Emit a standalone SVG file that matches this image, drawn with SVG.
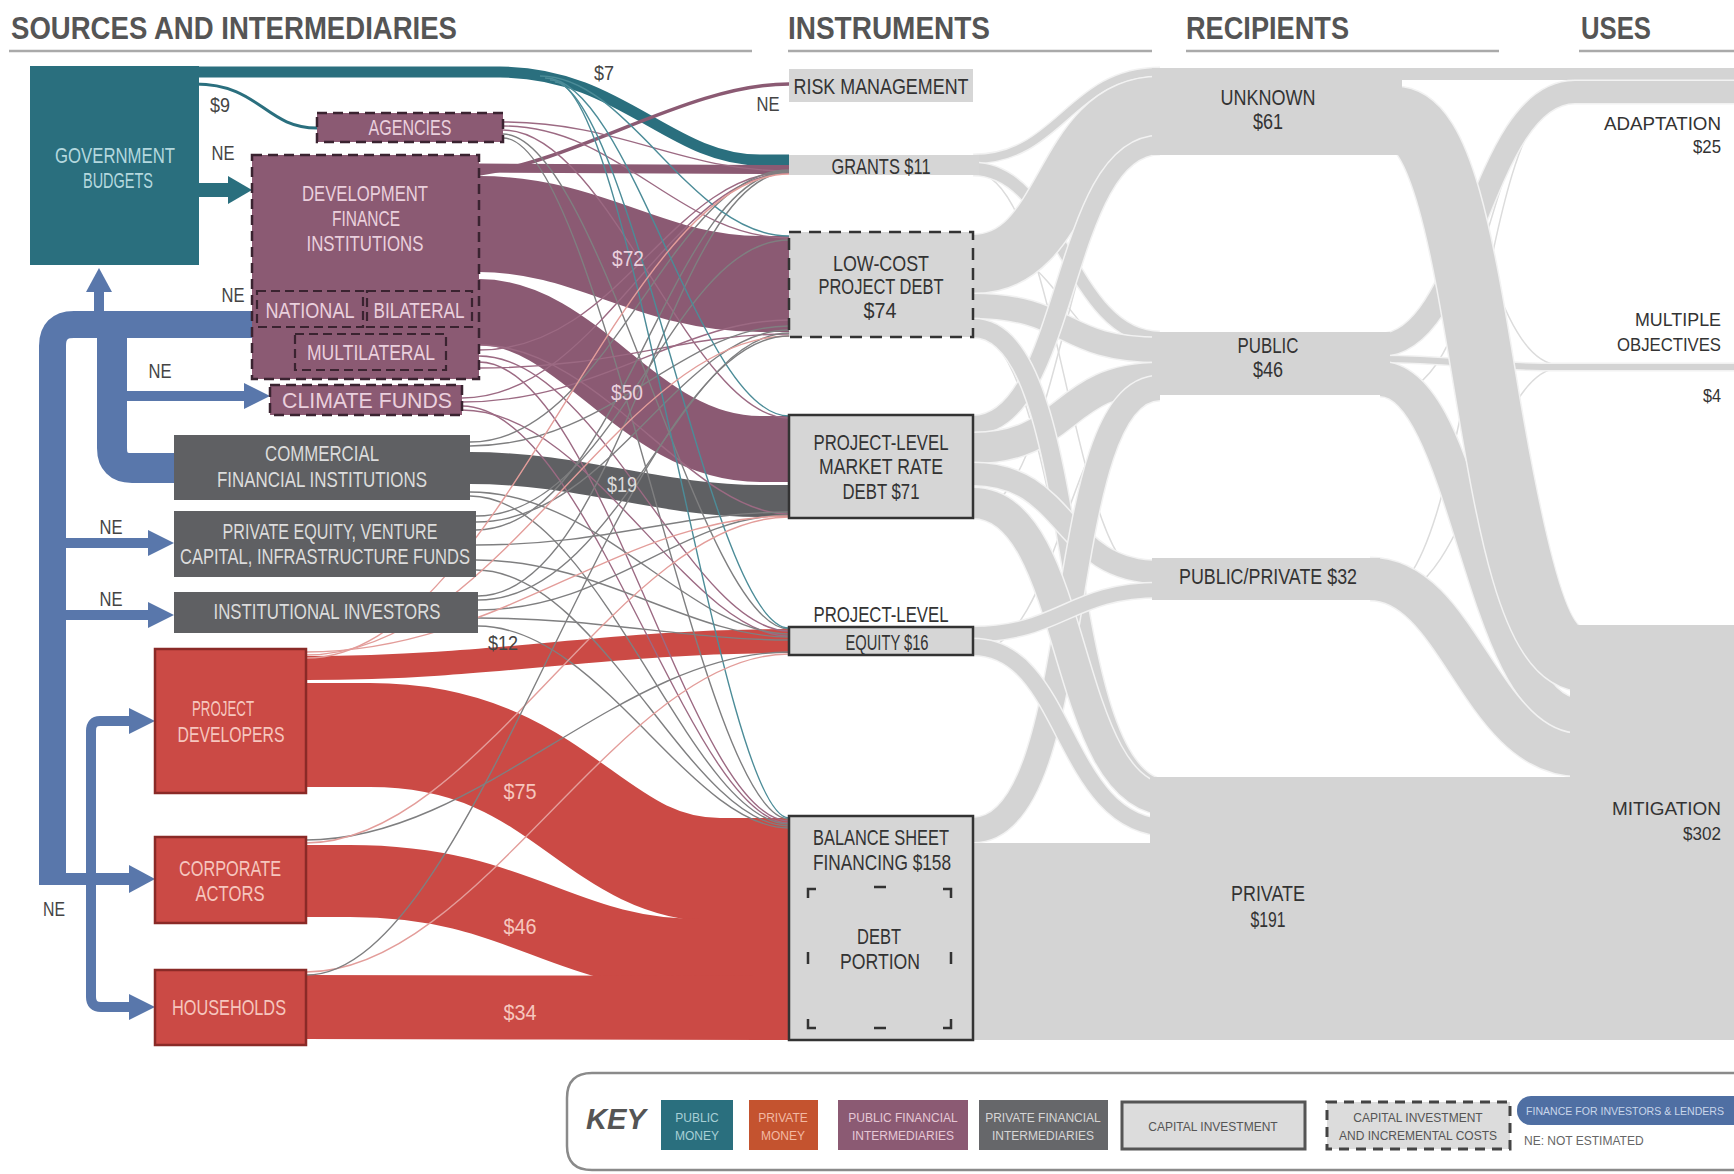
<svg xmlns="http://www.w3.org/2000/svg" width="1734" height="1174" viewBox="0 0 1734 1174">
<style>
.hd{font-family:"Liberation Sans",Arial,sans-serif;font-weight:bold;font-size:31px;fill:#555}
.t{font-family:"Liberation Sans Narrow","Liberation Sans",Arial,sans-serif;font-size:22px;text-anchor:middle}
.u{font-size:19px;text-anchor:end}
.dk{fill:#333}
.lt{fill:#b4d8de}
.lm{fill:#ead0dd}
.lg{fill:#dcdcdc}
.lr{fill:#f6c6be}
.ne{fill:#444;font-size:20px}
.f{fill:none;stroke:#d4d4d4}
.h{fill:none;stroke:#f2f2f2}
.hair{fill:none;stroke-width:1.4}
.hm{stroke:#9c6a83}
.hg{stroke:#7f7f80}
.ht{stroke:#4c8c98}
.hp{stroke:#e39d9a}
.hr{fill:none;stroke:#dcdcdc;stroke-width:1.5}
.node{fill:#d4d4d4}
.mv{fill:#8b5a73;stroke:#3a2330;stroke-width:2.5;stroke-dasharray:10 6}
.sub{fill:#8b5a73;stroke:#3a2330;stroke-width:2.2;stroke-dasharray:9 5}
.gr{fill:#5f6063}
.rd{fill:#cb4a45;stroke:#8a2a27;stroke-width:2.5}
.ins{fill:#d6d6d6;stroke:#333;stroke-width:2.5}
.blue{fill:none;stroke:#5977ab}
.bh{fill:#5977ab}
.k{font-family:"Liberation Sans Narrow","Liberation Sans",Arial,sans-serif;font-size:12px;text-anchor:middle}
</style>

<!-- headers -->
<g id="headers">
<text class="hd" x="11" y="39" textLength="446" lengthAdjust="spacingAndGlyphs">SOURCES AND INTERMEDIARIES</text>
<text class="hd" x="788" y="39" textLength="202" lengthAdjust="spacingAndGlyphs">INSTRUMENTS</text>
<text class="hd" x="1186" y="39" textLength="163" lengthAdjust="spacingAndGlyphs">RECIPIENTS</text>
<text class="hd" x="1581" y="39" textLength="70" lengthAdjust="spacingAndGlyphs">USES</text>
<path d="M9,51H752 M788,51H1152 M1186,51H1499 M1579,51H1734" stroke="#aaa" stroke-width="2.5" fill="none"/>
</g>

<!-- right-side connectors -->
<g id="connectors-right">
<path class="hr" d="M973,172 C1060,172 1070,580 1150,580"/>
<path class="hr" d="M973,332 C1060,332 1070,810 1150,810"/>
<path class="hr" d="M973,652 C1060,652 1070,392 1150,392"/>
<path class="hr" d="M973,242 C1060,242 1070,362 1150,362"/>
<path class="hr" d="M973,512 C1060,512 1070,150 1150,150"/>
<path class="hr" d="M1405,150 C1480,150 1490,365 1560,365"/>
<path class="hr" d="M1395,392 C1480,392 1490,100 1560,100"/>
<path class="hr" d="M1385,598 C1470,598 1490,368 1560,368"/>
<path class="hr" d="M1380,596 C1470,596 1480,102 1560,102"/>
<path class="hr" d="M1405,96 C1480,96 1480,600 1560,600"/>

<path class="h" stroke-width="11" d="M973,159 C1060,159 1070,72 1160,72"/>
<path class="f" stroke-width="8" d="M973,159 C1060,159 1070,72 1160,72"/>
<path class="h" stroke-width="15" d="M973,169 C1060,169 1070,338 1160,338"/>
<path class="f" stroke-width="12" d="M973,169 C1060,169 1070,338 1160,338"/>
<path class="h" stroke-width="61" d="M973,264 C1070,264 1060,106 1160,106"/>
<path class="f" stroke-width="58" d="M973,264 C1070,264 1060,106 1160,106"/>
<path class="h" stroke-width="27" d="M973,306 C1070,306 1060,350 1160,350"/>
<path class="f" stroke-width="24" d="M973,306 C1070,306 1060,350 1160,350"/>
<path class="h" stroke-width="21" d="M973,425 C1070,425 1060,145 1160,145"/>
<path class="f" stroke-width="18" d="M973,425 C1070,425 1060,145 1160,145"/>
<path class="h" stroke-width="33" d="M973,448 C1070,448 1060,378 1160,378"/>
<path class="f" stroke-width="30" d="M973,448 C1070,448 1060,378 1160,378"/>
<path class="h" stroke-width="21" d="M973,328 C1090,328 1050,790 1170,790"/>
<path class="f" stroke-width="18" d="M973,328 C1090,328 1050,790 1170,790"/>
<path class="h" stroke-width="25" d="M973,474 C1070,474 1060,572 1160,572"/>
<path class="f" stroke-width="22" d="M973,474 C1070,474 1060,572 1160,572"/>
<path class="h" stroke-width="27" d="M973,830 C1090,830 1050,388 1160,388"/>
<path class="f" stroke-width="24" d="M973,830 C1090,830 1050,388 1160,388"/>
<path class="h" stroke-width="33" d="M973,503 C1080,503 1060,800 1170,800"/>
<path class="f" stroke-width="30" d="M973,503 C1080,503 1060,800 1170,800"/>
<path class="h" stroke-width="17" d="M973,634 C1060,634 1070,590 1160,590"/>
<path class="f" stroke-width="14" d="M973,634 C1060,634 1070,590 1160,590"/>
<path class="h" stroke-width="19" d="M973,647 C1070,647 1060,828 1170,828"/>
<path class="f" stroke-width="16" d="M973,647 C1070,647 1060,828 1170,828"/>
<rect class="node" x="973" y="843" width="200" height="197"/>

<path class="f" stroke-width="12" d="M1390,74 L1734,74"/>
<path class="h" stroke-width="25" d="M1380,345 C1470,345 1480,92 1575,92 L1734,92"/>
<path class="f" stroke-width="22" d="M1380,345 C1470,345 1480,92 1575,92 L1734,92"/>
<path class="h" stroke-width="9" d="M1380,359 C1460,359 1470,367 1560,367 L1734,367"/>
<path class="f" stroke-width="6" d="M1380,359 C1460,359 1470,367 1560,367 L1734,367"/>
<path class="h" stroke-width="37" d="M1380,379 C1470,379 1480,716 1580,716"/>
<path class="f" stroke-width="34" d="M1380,379 C1470,379 1480,716 1580,716"/>
<path class="h" stroke-width="65" d="M1395,118 C1490,118 1480,660 1585,660"/>
<path class="f" stroke-width="62" d="M1395,118 C1490,118 1480,660 1585,660"/>
<path class="h" stroke-width="45" d="M1370,579 C1460,579 1480,755 1580,755"/>
<path class="f" stroke-width="42" d="M1370,579 C1460,579 1480,755 1580,755"/>
</g>

<!-- recipients and uses -->
<g id="node-unknown"><rect class="node" x="1152" y="68" width="250" height="87"/>
<text class="t dk" x="1268" y="105" textLength="95" lengthAdjust="spacingAndGlyphs">UNKNOWN</text>
<text class="t dk" x="1268" y="129" textLength="30" lengthAdjust="spacingAndGlyphs">$61</text></g>
<g id="node-public"><rect class="node" x="1152" y="332" width="238" height="63"/>
<text class="t dk" x="1268" y="353" textLength="61" lengthAdjust="spacingAndGlyphs">PUBLIC</text>
<text class="t dk" x="1268" y="377" textLength="30" lengthAdjust="spacingAndGlyphs">$46</text></g>
<g id="node-pubpriv"><rect class="node" x="1152" y="558" width="228" height="42"/>
<text class="t dk" x="1268" y="584" textLength="178" lengthAdjust="spacingAndGlyphs">PUBLIC/PRIVATE $32</text></g>
<g id="node-private"><rect class="node" x="1150" y="777" width="584" height="263"/>
<text class="t dk" x="1268" y="901" textLength="74" lengthAdjust="spacingAndGlyphs">PRIVATE</text>
<text class="t dk" x="1268" y="927" textLength="35" lengthAdjust="spacingAndGlyphs">$191</text></g>
<g id="node-mitigation"><rect class="node" x="1570" y="625" width="164" height="415"/>
<text class="t u dk" x="1721" y="815" textLength="109" lengthAdjust="spacingAndGlyphs">MITIGATION</text>
<text class="t u dk" x="1721" y="840" textLength="38" lengthAdjust="spacingAndGlyphs">$302</text></g>
<g id="node-adaptation">
<text class="t u dk" x="1721" y="130" textLength="117" lengthAdjust="spacingAndGlyphs">ADAPTATION</text>
<text class="t u dk" x="1721" y="153" textLength="28" lengthAdjust="spacingAndGlyphs">$25</text></g>
<g id="node-multiple">
<text class="t u dk" x="1721" y="326" textLength="86" lengthAdjust="spacingAndGlyphs">MULTIPLE</text>
<text class="t u dk" x="1721" y="351" textLength="104" lengthAdjust="spacingAndGlyphs">OBJECTIVES</text>
<text class="t u dk" x="1721" y="402" textLength="18" lengthAdjust="spacingAndGlyphs">$4</text></g>

<!-- left-side connectors -->
<g id="connectors-left">
<path fill="none" stroke="#2a6f7e" stroke-width="11" d="M195,72 L500,72 C620,72 670,160 760,160 L789,160"/>
<path fill="none" stroke="#2a6f7e" stroke-width="3" d="M195,84 C260,84 265,128 317,128"/>
<path fill="none" stroke="#8b5a73" stroke-width="9" d="M479,168 C600,168 680,169.5 789,169.5"/>
<path fill="none" stroke="#8b5a73" stroke-width="3.5" d="M479,174 C580,160 690,84 789,84"/>
<path fill="none" stroke="#8b5a73" stroke-width="96" d="M479,224 C590,224 650,284 760,284 L789,284"/>
<path fill="none" stroke="#8b5a73" stroke-width="66" d="M479,312 C580,312 640,449 760,449 L789,449"/>
<path fill="none" stroke="#5f6063" stroke-width="32" d="M470,468 C580,468 660,501 760,501 L789,501"/>
<path fill="none" stroke="#cb4a45" stroke-width="24" d="M306,668 C500,668 600,641 789,641"/>
<path fill="none" stroke="#cb4a45" stroke-width="104" d="M306,735 L370,735 C560,735 590,870 720,870 L789,870"/>
<path fill="none" stroke="#cb4a45" stroke-width="72" d="M306,881 L350,881 C520,881 560,955 700,955 L789,955"/>
<path fill="none" stroke="#cb4a45" stroke-width="64" d="M306,1007 C500,1007 600,1008 789,1008"/>

<path class="hair hm" d="M503,122 C620,122 680,171 789,171"/>
<path class="hair hm" d="M503,126 C620,126 680,238 789,238"/>
<path class="hair hm" d="M503,130 C610,130 690,418 789,418"/>
<path class="hair hg" d="M503,134 C600,134 700,629 789,629"/>
<path class="hair hg" d="M503,138 C600,138 700,819 789,819"/>
<path class="hair hm" d="M479,350 C620,350 670,172 789,172"/>
<path class="hair hm" d="M479,356 C600,356 690,631 789,631"/>
<path class="hair hm" d="M479,362 C600,362 690,821 789,821"/>
<path class="hair hm" d="M479,368 C620,368 680,334 789,334"/>
<path class="hair hm" d="M479,345 C600,345 690,514 789,514"/>
<path class="hair hm" d="M462,398 C600,398 670,173 789,173"/>
<path class="hair hm" d="M462,402 C600,402 680,320 789,320"/>
<path class="hair hm" d="M462,406 C590,406 690,823 789,823"/>
<path class="hair hm" d="M462,410 C590,410 690,636 789,636"/>
<path class="hair hg" d="M470,442 C610,442 670,170 789,170"/>
<path class="hair hg" d="M470,446 C610,446 680,326 789,326"/>
<path class="hair hg" d="M470,492 C600,492 690,634 789,634"/>
<path class="hair hg" d="M470,496 C600,496 690,824 789,824"/>
<path class="hair hg" d="M476,516 C620,516 670,240 789,240"/>
<path class="hair hg" d="M476,522 C610,522 680,330 789,330"/>
<path class="hair hg" d="M476,530 C620,530 670,171 789,171"/>
<path class="hair hg" d="M476,545 C610,545 680,512 789,512"/>
<path class="hair hg" d="M476,560 C600,560 690,637 789,637"/>
<path class="hair hg" d="M476,570 C600,570 690,826 789,826"/>
<path class="hair hg" d="M478,596 C620,596 670,172 789,172"/>
<path class="hair hg" d="M478,600 C620,600 680,333 789,333"/>
<path class="hair hg" d="M478,610 C610,610 680,515 789,515"/>
<path class="hair hg" d="M478,618 C600,618 690,640 789,640"/>
<path class="hair hg" d="M478,626 C600,626 690,828 789,828"/>
<path class="hair ht" d="M540,76 C630,76 690,236 789,236"/>
<path class="hair ht" d="M545,78 C630,78 700,416 789,416"/>
<path class="hair ht" d="M550,80 C630,80 710,628 789,628"/>
<path class="hair ht" d="M555,82 C630,82 720,818 789,818"/>
<path class="hair hp" d="M306,652 C500,652 620,516 789,516"/>
<path class="hair hp" d="M306,655 C500,655 620,336 789,336"/>
<path class="hair hp" d="M306,658 C500,658 620,174 789,174"/>
<path class="hair hg" d="M306,840 C480,840 620,652 789,652"/>
<path class="hair hp" d="M306,843 C480,843 620,517 789,517"/>
<path class="hair hp" d="M306,972 C480,972 620,654 789,654"/>
<path class="hair hg" d="M306,975 C480,975 620,336 789,336"/>
</g>

<!-- blue arrows -->
<g id="connectors-blue">
<path class="blue" stroke-width="27" d="M252,324.5 L74,324.5 Q52.5,324.5 52.5,346 L52.5,885"/>
<rect class="bh" x="94" y="288" width="10" height="26"/>
<polygon class="bh" points="99,268 86,292 112,292"/>
<path class="blue" stroke-width="30" d="M174,468 L132,468 Q112,468 112,448 L112,336"/>
<path class="blue" stroke-width="10" d="M126,396 L246,396"/>
<polygon class="bh" points="270,396 244,383 244,409"/>
<path class="blue" stroke-width="10" d="M60,543 L150,543"/>
<polygon class="bh" points="174,543 148,530 148,556"/>
<path class="blue" stroke-width="10" d="M60,615 L150,615"/>
<polygon class="bh" points="174,615 148,602 148,628"/>
<path class="blue" stroke-width="12" d="M52,879 L132,879"/>
<polygon class="bh" points="155,879 129,865 129,893"/>
<path class="blue" stroke-width="10" d="M132,721 L100,721 Q91,721 91,731 L91,997 Q91,1007 101,1007 L132,1007"/>
<polygon class="bh" points="155,721 129,708 129,734"/>
<polygon class="bh" points="155,1007 129,994 129,1020"/>
<path fill="none" stroke="#2a6f7e" stroke-width="14" d="M199,190 L232,190"/>
<polygon fill="#2a6f7e" points="252,190 228,176 228,204"/>
</g>

<!-- source nodes -->
<g id="node-gov"><rect x="30" y="66" width="169" height="199" fill="#2a6f7e"/>
<text class="t lt" x="115" y="163" textLength="120" lengthAdjust="spacingAndGlyphs">GOVERNMENT</text>
<text class="t lt" x="118" y="188" textLength="70" lengthAdjust="spacingAndGlyphs">BUDGETS</text></g>
<g id="node-agencies"><rect class="mv" x="317" y="113" width="186" height="29"/>
<text class="t lm" x="410" y="135" textLength="83" lengthAdjust="spacingAndGlyphs">AGENCIES</text></g>
<g id="node-dfi"><rect class="mv" x="252" y="155" width="227" height="224"/>
<text class="t lm" x="365" y="201" textLength="126" lengthAdjust="spacingAndGlyphs">DEVELOPMENT</text>
<text class="t lm" x="366" y="226" textLength="68" lengthAdjust="spacingAndGlyphs">FINANCE</text>
<text class="t lm" x="365" y="251" textLength="117" lengthAdjust="spacingAndGlyphs">INSTITUTIONS</text></g>
<g id="node-national"><rect class="sub" x="257" y="291" width="106" height="36"/>
<text class="t lm" x="310" y="318" textLength="89" lengthAdjust="spacingAndGlyphs">NATIONAL</text></g>
<g id="node-bilateral"><rect class="sub" x="367" y="291" width="105" height="36"/>
<text class="t lm" x="419" y="318" textLength="91" lengthAdjust="spacingAndGlyphs">BILATERAL</text></g>
<g id="node-multilateral"><rect class="sub" x="295" y="334" width="151" height="36"/>
<text class="t lm" x="371" y="360" textLength="128" lengthAdjust="spacingAndGlyphs">MULTILATERAL</text></g>
<g id="node-climate"><rect class="mv" x="270" y="385" width="192" height="30"/>
<text class="t lm" x="367" y="408" textLength="170" lengthAdjust="spacingAndGlyphs">CLIMATE FUNDS</text></g>
<g id="node-commercial"><rect class="gr" x="174" y="435" width="296" height="65"/>
<text class="t lg" x="322" y="461" textLength="114" lengthAdjust="spacingAndGlyphs">COMMERCIAL</text>
<text class="t lg" x="322" y="487" textLength="210" lengthAdjust="spacingAndGlyphs">FINANCIAL INSTITUTIONS</text></g>
<g id="node-pe"><rect class="gr" x="174" y="511" width="302" height="66"/>
<text class="t lg" x="330" y="539" textLength="215" lengthAdjust="spacingAndGlyphs">PRIVATE EQUITY, VENTURE</text>
<text class="t lg" x="325" y="564" textLength="290" lengthAdjust="spacingAndGlyphs">CAPITAL, INFRASTRUCTURE FUNDS</text></g>
<g id="node-institutional"><rect class="gr" x="174" y="592" width="304" height="41"/>
<text class="t lg" x="327" y="619" textLength="227" lengthAdjust="spacingAndGlyphs">INSTITUTIONAL INVESTORS</text></g>
<g id="node-developers"><rect class="rd" x="155" y="649" width="151" height="144"/>
<text class="t lr" x="223" y="716" textLength="62" lengthAdjust="spacingAndGlyphs">PROJECT</text>
<text class="t lr" x="231" y="742" textLength="107" lengthAdjust="spacingAndGlyphs">DEVELOPERS</text></g>
<g id="node-corporate"><rect class="rd" x="155" y="837" width="151" height="86"/>
<text class="t lr" x="230" y="876" textLength="102" lengthAdjust="spacingAndGlyphs">CORPORATE</text>
<text class="t lr" x="230" y="901" textLength="69" lengthAdjust="spacingAndGlyphs">ACTORS</text></g>
<g id="node-households"><rect class="rd" x="155" y="970" width="151" height="75"/>
<text class="t lr" x="229" y="1015" textLength="114" lengthAdjust="spacingAndGlyphs">HOUSEHOLDS</text></g>

<!-- instrument nodes -->
<g id="node-risk"><rect x="789" y="69" width="184" height="33" fill="#d6d6d6"/>
<text class="t dk" x="881" y="94" textLength="175" lengthAdjust="spacingAndGlyphs">RISK MANAGEMENT</text></g>
<g id="node-grants"><rect x="789" y="155" width="190" height="20" fill="#d6d6d6"/>
<text class="t dk" x="881" y="174" textLength="99" lengthAdjust="spacingAndGlyphs">GRANTS $11</text></g>
<g id="node-lowcost"><rect class="ins" x="789" y="232" width="184" height="105" stroke-dasharray="12 8"/>
<text class="t dk" x="881" y="271" textLength="96" lengthAdjust="spacingAndGlyphs">LOW-COST</text>
<text class="t dk" x="881" y="294" textLength="125" lengthAdjust="spacingAndGlyphs">PROJECT DEBT</text>
<text class="t dk" x="880" y="318" textLength="33" lengthAdjust="spacingAndGlyphs">$74</text></g>
<g id="node-market"><rect class="ins" x="789" y="415" width="184" height="103"/>
<text class="t dk" x="881" y="450" textLength="135" lengthAdjust="spacingAndGlyphs">PROJECT-LEVEL</text>
<text class="t dk" x="881" y="474" textLength="124" lengthAdjust="spacingAndGlyphs">MARKET RATE</text>
<text class="t dk" x="881" y="499" textLength="77" lengthAdjust="spacingAndGlyphs">DEBT $71</text></g>
<g id="node-equity"><rect class="ins" x="789" y="627" width="184" height="28"/>
<text class="t dk" x="881" y="622" textLength="135" lengthAdjust="spacingAndGlyphs">PROJECT-LEVEL</text>
<text class="t dk" x="887" y="650" textLength="83" lengthAdjust="spacingAndGlyphs">EQUITY $16</text></g>
<g id="node-balance"><rect class="ins" x="789" y="816" width="184" height="224"/>
<text class="t dk" x="881" y="845" textLength="136" lengthAdjust="spacingAndGlyphs">BALANCE SHEET</text>
<text class="t dk" x="882" y="870" textLength="138" lengthAdjust="spacingAndGlyphs">FINANCING $158</text>
<path fill="none" stroke="#333" stroke-width="2.5" d="M808,898 L808,889 L816,889 M943,889 L951,889 L951,898 M808,1019 L808,1028 L816,1028 M943,1028 L951,1028 L951,1019 M874,887 L886,887 M874,1028 L886,1028 M808,952 L808,964 M951,952 L951,964"/>
<text class="t dk" x="879" y="944" textLength="44" lengthAdjust="spacingAndGlyphs">DEBT</text>
<text class="t dk" x="880" y="969" textLength="80" lengthAdjust="spacingAndGlyphs">PORTION</text></g>

<!-- flow labels -->
<g id="labels">
<text class="t lm" x="628" y="266" textLength="32" lengthAdjust="spacingAndGlyphs">$72</text>
<text class="t lm" x="627" y="400" textLength="32" lengthAdjust="spacingAndGlyphs">$50</text>
<text class="t lg" x="622" y="492" textLength="30" lengthAdjust="spacingAndGlyphs">$19</text>
<text class="t ne" x="503" y="650" textLength="30" lengthAdjust="spacingAndGlyphs">$12</text>
<text class="t lr" x="520" y="799" textLength="33" lengthAdjust="spacingAndGlyphs">$75</text>
<text class="t lr" x="520" y="934" textLength="33" lengthAdjust="spacingAndGlyphs">$46</text>
<text class="t lr" x="520" y="1020" textLength="33" lengthAdjust="spacingAndGlyphs">$34</text>
<text class="t ne" x="604" y="80" textLength="20" lengthAdjust="spacingAndGlyphs">$7</text>
<text class="t ne" x="220" y="112" textLength="20" lengthAdjust="spacingAndGlyphs">$9</text>
<text class="t ne" x="223" y="160" textLength="23" lengthAdjust="spacingAndGlyphs">NE</text>
<text class="t ne" x="233" y="302" textLength="23" lengthAdjust="spacingAndGlyphs">NE</text>
<text class="t ne" x="160" y="378" textLength="23" lengthAdjust="spacingAndGlyphs">NE</text>
<text class="t ne" x="111" y="534" textLength="23" lengthAdjust="spacingAndGlyphs">NE</text>
<text class="t ne" x="111" y="606" textLength="23" lengthAdjust="spacingAndGlyphs">NE</text>
<text class="t ne" x="54" y="916" textLength="22" lengthAdjust="spacingAndGlyphs">NE</text>
<text class="t ne" x="768" y="111" textLength="23" lengthAdjust="spacingAndGlyphs">NE</text>
</g>

<!-- key -->
<g id="key">
<path fill="none" stroke="#8a8a8a" stroke-width="2.5" d="M1740,1073 L592,1073 Q567,1073 567,1098 L567,1146 Q567,1170 592,1170 L1740,1170"/>
<text x="586" y="1129" font-family="'Liberation Sans',Arial,sans-serif" font-size="29" font-weight="bold" font-style="italic" fill="#555" textLength="60" lengthAdjust="spacingAndGlyphs">KEY</text>
<rect x="661" y="1100" width="72" height="50" fill="#2a6f7e"/>
<text class="k" x="697" y="1122" fill="#a8d0d6">PUBLIC</text><text class="k" x="697" y="1140" fill="#a8d0d6">MONEY</text>
<rect x="749" y="1100" width="69" height="50" fill="#c4532f"/>
<text class="k" x="783" y="1122" fill="#f2b9a3">PRIVATE</text><text class="k" x="783" y="1140" fill="#f2b9a3">MONEY</text>
<rect x="838" y="1100" width="130" height="50" fill="#8b5a73"/>
<text class="k" x="903" y="1122" fill="#e6c8d6">PUBLIC FINANCIAL</text><text class="k" x="903" y="1140" fill="#e6c8d6">INTERMEDIARIES</text>
<rect x="979" y="1100" width="129" height="50" fill="#66676a"/>
<text class="k" x="1043" y="1122" fill="#d6d6d6">PRIVATE FINANCIAL</text><text class="k" x="1043" y="1140" fill="#d6d6d6">INTERMEDIARIES</text>
<rect x="1122" y="1102" width="183" height="47" fill="#dcdcdc" stroke="#555" stroke-width="3"/>
<text class="k" x="1213" y="1131" fill="#555">CAPITAL INVESTMENT</text>
<rect x="1327" y="1102" width="183" height="47" fill="#dcdcdc" stroke="#444" stroke-width="3" stroke-dasharray="10 7"/>
<text class="k" x="1418" y="1122" fill="#555">CAPITAL INVESTMENT</text><text class="k" x="1418" y="1140" fill="#555">AND INCREMENTAL COSTS</text>
<rect x="1517" y="1096" width="240" height="29" rx="14" fill="#4f6fa3"/>
<text x="1526" y="1115" font-family="'Liberation Sans Narrow','Liberation Sans',Arial,sans-serif" font-size="10.5" fill="#c9d6ea" textLength="198" lengthAdjust="spacingAndGlyphs">FINANCE FOR INVESTORS &amp; LENDERS</text>
<text x="1524" y="1145" font-family="'Liberation Sans Narrow','Liberation Sans',Arial,sans-serif" font-size="12" fill="#666">NE: NOT ESTIMATED</text>
</g>
</svg>
